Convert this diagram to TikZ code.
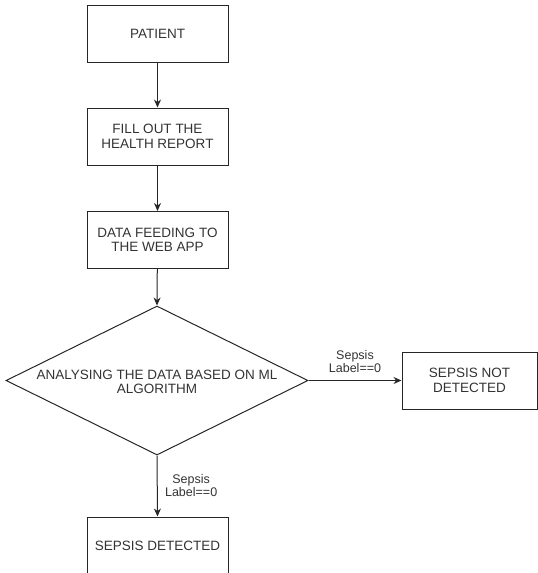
\documentclass[tikz,border=0pt]{standalone}
\usepackage{fontspec}
\setmainfont{Liberation Sans}
\usetikzlibrary{shapes.geometric,arrows.meta}
\begin{document}
\begin{tikzpicture}[x=1pt,y=-1pt,
  every node/.style={text=black!80, font=\fontsize{13.5}{14.5}\selectfont},
  box/.style={draw=black!85, line width=1pt, minimum width=141pt, minimum height=57pt, inner sep=0pt, align=center},
  dec/.style={draw=black!85, line width=1pt, shape=diamond, minimum width=302pt, minimum height=149pt, inner sep=0pt},
  conn/.style={draw=black!85, line width=1pt, -{Stealth[length=8pt,width=7pt]}},
  lbl/.style={font=\fontsize{12.5}{13}\selectfont, align=center}
]
\useasboundingbox (0,0) rectangle (538,573);
\node[box] (p1) at (157.5,33.5) {PATIENT};
\node[box] (p2) at (157.5,136.5) {FILL OUT THE\\HEALTH REPORT};
\node[box] (p3) at (157.5,240) {DATA FEEDING TO\\THE WEB APP};
\node[dec] (d) at (157,380.5) {};
\node[align=center] (dt) at (157,382) {ANALYSING THE DATA BASED ON ML\\ALGORITHM};
\node[box, minimum width=135pt] (nd) at (469.5,380.5) {SEPSIS NOT\\DETECTED};
\node[box] (sd) at (157.5,545.5) {SEPSIS DETECTED};
\draw[conn] (p1) -- (p2);
\draw[conn] (p2) -- (p3);
\draw[conn] (p3) -- (d.north);
\draw[conn] (d.east) -- node[lbl, above=4pt] (l1) {Sepsis\\Label==0} (nd.west);
\draw[conn] (d.south) -- node[lbl, right=4pt] (l2) {Sepsis\\Label==0} (sd.north);
\end{tikzpicture}
\end{document}
